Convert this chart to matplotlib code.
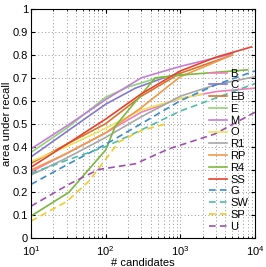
import numpy as np
import matplotlib as mpl
mpl.use('Agg')
import matplotlib.pyplot as plt

mpl.rcParams['font.family'] = ['Liberation Sans', 'DejaVu Sans']
mpl.rcParams['mathtext.fontset'] = 'custom'
mpl.rcParams['mathtext.rm'] = 'Liberation Sans'

# method names as in the legend
labels = ['B', 'C', 'EB', 'E', 'M', 'O', 'R1', 'RP', 'R4', 'SS', 'G', 'SW', 'SP', 'U']

# (candidates, area under recall)
n_B = [10, 30, 100, 300, 1000, 3000, 10000]
v_B = [0.29, 0.37, 0.46, 0.55, 0.61, 0.64, 0.655]
n_C = [10, 30, 100, 250, 600, 1000]
v_C = [0.355, 0.465, 0.585, 0.655, 0.70, 0.72]
n_EB = [10, 30, 100, 300, 1000, 5000]
v_EB = [0.327, 0.41, 0.50, 0.62, 0.72, 0.80]
n_E = [10, 30, 100, 200, 500, 1200]
v_E = [0.375, 0.48, 0.615, 0.66, 0.70, 0.715]
n_M = [10, 30, 100, 300, 1000, 5000]
v_M = [0.39, 0.49, 0.605, 0.70, 0.75, 0.805]
n_O = [10, 30, 100, 300, 1000, 2000]
v_O = [0.335, 0.40, 0.48, 0.56, 0.61, 0.63]
n_R1 = [10, 30, 100, 300, 1000, 3000, 10000]
v_R1 = [0.276, 0.35, 0.44, 0.53, 0.62, 0.67, 0.705]
n_RP = [10, 30, 100, 300, 1000, 5000]
v_RP = [0.298, 0.37, 0.46, 0.57, 0.705, 0.80]
n_R4 = [10, 32, 100, 135, 460, 1000, 8000]
v_R4 = [0.097, 0.20, 0.385, 0.49, 0.70, 0.712, 0.735]
n_SS = [10, 30, 100, 300, 1000, 3000, 9000]
v_SS = [0.31, 0.41, 0.52, 0.63, 0.73, 0.79, 0.835]
n_G = [10, 30, 100, 300, 1000, 3000, 10000]
v_G = [0.235, 0.32, 0.41, 0.50, 0.60, 0.67, 0.73]
n_SW = [10, 30, 100, 200, 1000, 10000]
v_SW = [0.283, 0.34, 0.40, 0.445, 0.555, 0.675]
n_SP = [10, 30, 60, 150, 300, 650]
v_SP = [0.075, 0.16, 0.25, 0.42, 0.47, 0.50]
n_U = [10, 32, 80, 250, 700, 2900, 10000]
v_U = [0.14, 0.235, 0.30, 0.325, 0.39, 0.455, 0.55]

series = [(n_B, v_B), (n_C, v_C), (n_EB, v_EB), (n_E, v_E), (n_M, v_M),
          (n_O, v_O), (n_R1, v_R1), (n_RP, v_RP), (n_R4, v_R4), (n_SS, v_SS),
          (n_G, v_G), (n_SW, v_SW), (n_SP, v_SP), (n_U, v_U)]

colors = ['#f07fb8', '#8478c8', '#d8742c', '#92d27a', '#c47ed6', '#ece45a',
          '#a8a8a8', '#f09a48', '#7cb83e', '#e8412e', '#3c8cc8', '#4fbcaa',
          '#f0cc28', '#a050b0']
styles = ['-'] * 10 + ['--'] * 4

fig = plt.figure(figsize=(2.66, 2.67), dpi=100)
ax = fig.add_axes([0.1165, 0.1075, 0.842, 0.8585])

for (n, v), lab, c, ls in zip(series, labels, colors, styles):
    ax.plot(n, v, ls, color=c, lw=1.2, label=lab, dashes=(4, 2.5) if ls == '--' else (None, None))

ax.set_xscale('log')
ax.set_xlim(10, 10000)
ax.set_ylim(0, 1)
ax.set_yticks(np.arange(0, 1.01, 0.1))
ax.set_yticklabels(['0', '0.1', '0.2', '0.3', '0.4', '0.5', '0.6', '0.7', '0.8', '0.9', '1'])
ax.grid(True, which='both', ls=(0, (1, 2.5)), color='#999999', lw=0.7)
ax.tick_params(which='both', direction='in', top=True, right=True, labelsize=8, length=3, pad=2)
ax.tick_params(axis='x', which='major', pad=4)
ax.tick_params(which='minor', length=1.5)
for s in ax.spines.values():
    s.set_linewidth(0.8)

ax.set_xlabel('# candidates', fontsize=8, labelpad=0)
ax.set_ylabel('area under recall', fontsize=8)
ax.yaxis.set_label_coords(-0.085, 0.5)

ax.legend(loc='lower right', frameon=False, fontsize=8, labelspacing=0.16,
          handlelength=1.6, handletextpad=0.3, borderaxespad=0.2)

plt.savefig('out.png', dpi=100)
